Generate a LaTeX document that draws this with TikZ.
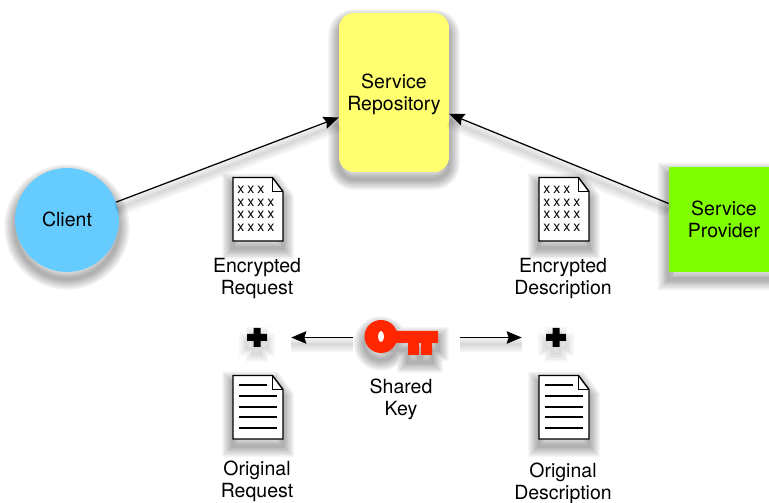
\documentclass[tikz,border=0pt]{standalone}
\usepackage{fontspec}
\setmainfont{TeX Gyre Heros}
\usetikzlibrary{arrows.meta,positioning}
\definecolor{repoyellow}{RGB}{255,255,112}
\definecolor{clientblue}{RGB}{102,204,255}
\definecolor{providergreen}{RGB}{128,255,0}
\definecolor{keyred}{RGB}{255,38,0}
\tikzset{
  softshadow/.style={
    preaction={draw=black,draw opacity=.06,line width=12pt,transform canvas={yshift=-4pt}},
    preaction={draw=black,draw opacity=.06,line width=10pt,transform canvas={yshift=-4pt}},
    preaction={draw=black,draw opacity=.06,line width=8pt,transform canvas={yshift=-4pt}},
    preaction={draw=black,draw opacity=.06,line width=6pt,transform canvas={yshift=-4pt}},
    preaction={draw=black,draw opacity=.06,line width=4pt,transform canvas={yshift=-4pt}},
    preaction={draw=black,draw opacity=.06,line width=2pt,transform canvas={yshift=-4pt}}},
  lineshadow/.style={
    preaction={arrows=-,draw=black,draw opacity=.03,line width=9pt,transform canvas={yshift=-4pt}},
    preaction={arrows=-,draw=black,draw opacity=.03,line width=7pt,transform canvas={yshift=-4pt}},
    preaction={arrows=-,draw=black,draw opacity=.03,line width=5pt,transform canvas={yshift=-4pt}},
    preaction={arrows=-,draw=black,draw opacity=.03,line width=3pt,transform canvas={yshift=-4pt}},
    preaction={arrows=-,draw=black,draw opacity=.03,line width=1.5pt,transform canvas={yshift=-4pt}}},
  lbl/.style={font=\fontsize{11.1}{12.5}\selectfont,align=center,inner sep=0pt},
  conn/.style={draw=black,line width=0.7pt,lineshadow,-{Stealth[length=0.3cm,width=0.25cm,inset=0.04cm]}},
  blank/.style={inner sep=0pt,minimum width=#1},
  doc/.pic={
    \draw[softshadow,fill=white,line width=0.8pt] (0,0) -- (39.5,0) -- (50,14) -- (50,63.5) -- (0,63.5) -- cycle;
    \draw[line width=0.8pt] (39.5,0) -- (39.5,14) -- (50,14);
  },
  plussign/.pic={
    \fill[black,lineshadow] (-3.5,-9.5) rectangle (3.5,9.5) (-10,-3.5) rectangle (10,3.5);
  }
}
\begin{document}
\begin{tikzpicture}[x=0.02cm,y=-0.02cm]
  \useasboundingbox (0,0) rectangle (769,503);

  % Main boxes
  \node[softshadow,fill=repoyellow,rounded corners=0.3cm,minimum width=2.2cm,minimum height=3.18cm] (repo) at (394,92.5) {};
  \node[lbl] (repotext) at (394,94.5) {Service\\Repository};
  \node[softshadow,fill=clientblue,circle,minimum size=2.08cm] (client) at (67,220) {};
  \node[lbl] (clienttext) at (67,219) {Client};
  \node[softshadow,fill=providergreen,minimum width=2.2cm,minimum height=2.1cm,lbl] (provider) at (724,219.5) {Service\\Provider};

  % Arrows to repository
  \draw[conn] (client.20) -- ([yshift=-0.5cm]repo.west);
  \draw[conn] ([yshift=0.32cm]provider.west) -- ([yshift=-0.43cm]repo.east);

  % Documents
  \pic at (233,177.5) {doc};
  \pic at (539,177.5) {doc};
  \pic at (233,375.5) {doc};
  \pic at (539,375.5) {doc};

  % Encrypted text
  \foreach \dx in {233,539} {
    \foreach \row/\ry in {1/12.5,2/25.5,3/37.5,4/50.5}
      \foreach \col in {1,...,4} {
        \ifnum\row\col=14\else
          \node[font=\fontsize{8}{8}\selectfont,inner sep=0pt] at (\dx+\col*10-2.5+0.5,177.5+\ry) {x};
        \fi
      }
  }

  % Text lines
  \foreach \dx in {233,539} {
    \draw[line width=0.6pt] (\dx+6,385) -- (\dx+34,385);
    \foreach \ly in {396,407,417,428}
      \draw[line width=0.6pt] (\dx+6,\ly) -- (\dx+44,\ly);
  }

  % Labels
  \node[lbl] (enc1) at (257,279) {Encrypted\\Request};
  \node[lbl] (enc2) at (563,279) {Encrypted\\Description};
  \node[lbl] (orig1) at (257,481) {Original\\Request};
  \node[lbl] (orig2) at (563,483) {Original\\Description};
  \node[lbl] (shared) at (401,399) {Shared\\Key};

  % Key
  \fill[keyred,softshadow] (381,336.5) circle[radius=16.5] (438,331) rectangle (385,343) (419,343) rectangle (408,355) (432,343) rectangle (421,355);
  \fill[white] (381,336.5) ellipse[x radius=3,y radius=5.5];

  % Plus signs and arrows
  \node[blank=2.14cm,minimum height=0.2cm] (key) at (406.5,337.5) {};
  \node[blank=1.36cm,minimum height=0.2cm] (plusl) at (257,337.5) {};
  \node[blank=1.36cm,minimum height=0.2cm] (plusr) at (556,337.5) {};
  \pic at (plusl) {plussign};
  \pic at (plusr) {plussign};
  \draw[conn] (key) -- (plusl);
  \draw[conn] (key) -- (plusr);
\end{tikzpicture}
\end{document}
